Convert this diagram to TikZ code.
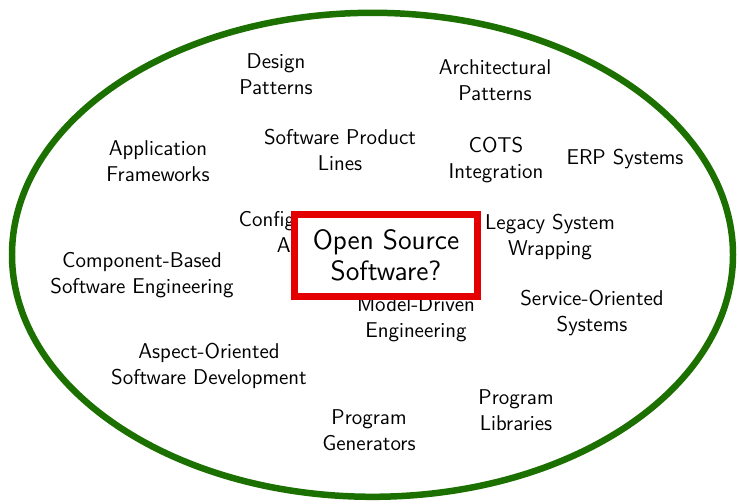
\documentclass[tikz,border=0pt]{standalone}
\usepackage{tikz}
\usetikzlibrary{shapes,positioning}
\usepackage{xcolor}
\definecolor{reusegreen}{RGB}{28,112,0}
\definecolor{hubred}{RGB}{228,0,0}

\begin{document}
\begin{tikzpicture}[
    x=0.5236pt, y=-0.5236pt,
    topic/.style={align=center, inner sep=0pt, font=\sffamily\fontsize{11.2}{13.6}\selectfont},
    hub/.style={draw=hubred, line width=3.7pt, fill=white, minimum width=96pt, minimum height=43pt,
                inner sep=0pt, align=center, font=\sffamily\fontsize{14.6}{16.4}\selectfont},
    landscape/.style={draw=reusegreen, line width=3.4pt},
]
\useasboundingbox (0,0) rectangle (739,504);

% ============ REUSE LANDSCAPE ============
\draw[landscape] (372.5,254.8) ellipse [x radius=360.5, y radius=242];

% ============ REUSE APPROACHES ============
\node[topic] (design)    at (276,74)  {Design\\Patterns};
\node[topic] (arch)      at (495,80)  {Architectural\\Patterns};
\node[topic] (appfw)     at (158,161) {Application\\Frameworks};
\node[topic] (spl)       at (340,150) {Software Product\\Lines};
\node[topic] (cots)      at (496,160) {COTS\\Integration};
\node[topic] (erp)       at (625,159) {ERP Systems};
\node[topic] (config)    at (330,234) {Configurable Vertical\\Applications};
\node[topic] (legacy)    at (550,237) {Legacy System\\Wrapping};
\node[topic] (cbse)      at (142,275) {Component-Based\\Software Engineering};
\node[topic] (mde)       at (416,319) {Model-Driven\\Engineering};
\node[topic] (soa)       at (592,313) {Service-Oriented\\Systems};
\node[topic] (aspect)    at (209,366) {Aspect-Oriented\\Software Development};
\node[topic] (libs)      at (516,410) {Program\\Libraries};
\node[topic] (gens)      at (369,430) {Program\\Generators};

% ============ OPEN QUESTION ============
\node[hub] (oss) at (386,255.5) {Open Source\\Software?};

\end{tikzpicture}
\end{document}
